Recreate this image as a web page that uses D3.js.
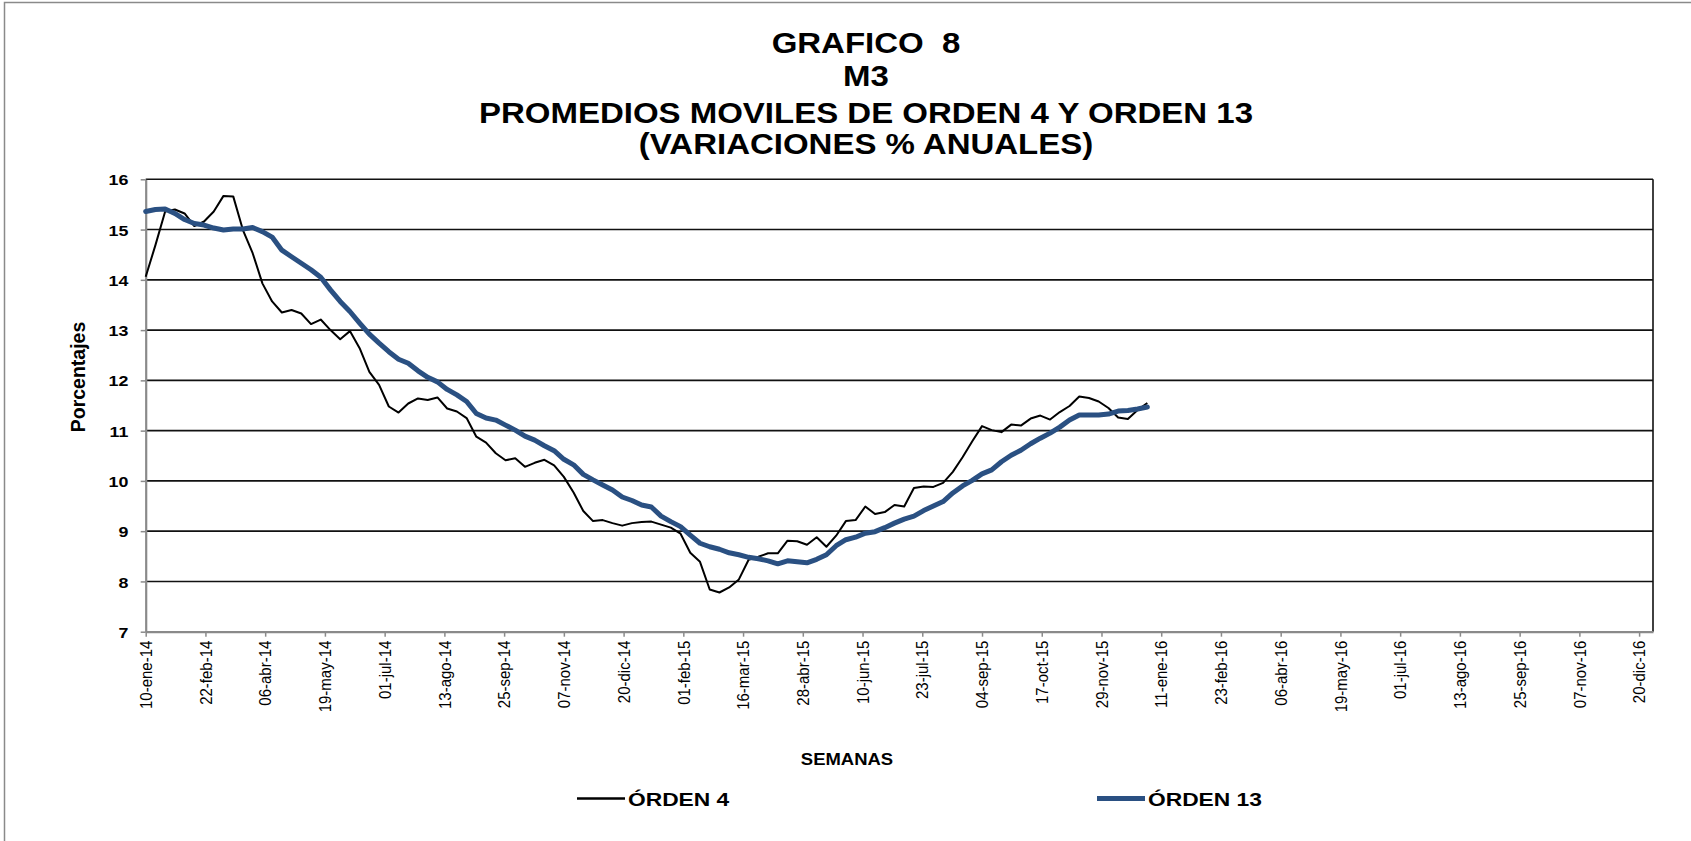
<!DOCTYPE html>
<html>
<head>
<meta charset="utf-8">
<script src="https://cdn.jsdelivr.net/npm/d3@7"></script>
<style>
  body { margin: 0; background: #fff; }
  svg text { font-family: "Liberation Sans", Arial, sans-serif; }
</style>
</head>
<body>
<svg width="1691" height="841"></svg>
<script>
// chart data (weekly, first week 10-ene-14)
var titleLines = ["GRAFICO  8", "M3", "PROMEDIOS MOVILES DE ORDEN 4 Y ORDEN 13", "(VARIACIONES % ANUALES)"];
var seriesNames = ["ÓRDEN 4", "ÓRDEN 13"];
var firstWeek = "10-ene-14";
var lastAxisDay = "30-dic-16";

var orden4 = [
  14.06, 14.69, 15.36, 15.40, 15.32, 15.07, 15.16, 15.36, 15.67, 15.66,
  14.99, 14.53, 13.93, 13.57, 13.35, 13.40, 13.33, 13.12, 13.21, 13.00,
  12.82, 12.98, 12.64, 12.17, 11.91, 11.48, 11.36, 11.54, 11.64, 11.61,
  11.66, 11.44, 11.38, 11.25, 10.88, 10.76, 10.55, 10.41, 10.45, 10.28,
  10.36, 10.42, 10.31, 10.08, 9.77, 9.40, 9.20, 9.22, 9.16, 9.11,
  9.16, 9.18, 9.19, 9.13, 9.07, 8.95, 8.57, 8.39, 7.84, 7.78,
  7.88, 8.04, 8.43, 8.49, 8.56, 8.56, 8.81, 8.80, 8.73, 8.88,
  8.69, 8.91, 9.20, 9.22, 9.49, 9.34, 9.38, 9.52, 9.49, 9.86,
  9.89, 9.88, 9.96, 10.18, 10.47, 10.79, 11.09, 11.01, 10.97, 11.12,
  11.10, 11.24, 11.30, 11.22, 11.37, 11.49, 11.68, 11.65, 11.58, 11.45,
  11.26, 11.23, 11.41, 11.55
];

var orden13 = [
  15.36, 15.40, 15.41, 15.32, 15.20, 15.12, 15.09, 15.03, 14.99, 15.01,
  15.01, 15.04, 14.96, 14.85, 14.59, 14.46, 14.33, 14.20, 14.05, 13.80,
  13.57, 13.37, 13.14, 12.92, 12.74, 12.57, 12.42, 12.34, 12.19, 12.06,
  11.97, 11.82, 11.71, 11.58, 11.34, 11.25, 11.21, 11.11, 11.01, 10.89,
  10.81, 10.70, 10.60, 10.43, 10.32, 10.13, 10.02, 9.92, 9.82, 9.68,
  9.61, 9.52, 9.48, 9.30, 9.19, 9.09, 8.92, 8.76, 8.69, 8.64,
  8.57, 8.53, 8.48, 8.45, 8.41, 8.35, 8.41, 8.39, 8.37, 8.44,
  8.53, 8.71, 8.83, 8.88, 8.96, 8.99, 9.07, 9.16, 9.24, 9.30,
  9.41, 9.50, 9.59, 9.76, 9.90, 10.01, 10.14, 10.22, 10.38, 10.51,
  10.61, 10.74, 10.85, 10.95, 11.07, 11.21, 11.31, 11.31, 11.31, 11.33,
  11.39, 11.40, 11.43, 11.47
];

var yTicks = [7, 8, 9, 10, 11, 12, 13, 14, 15, 16];

var xTickLabels = [
  "10-ene-14", "22-feb-14", "06-abr-14", "19-may-14", "01-jul-14", "13-ago-14",
  "25-sep-14", "07-nov-14", "20-dic-14", "01-feb-15", "16-mar-15", "28-abr-15",
  "10-jun-15", "23-jul-15", "04-sep-15", "17-oct-15", "29-nov-15", "11-ene-16",
  "23-feb-16", "06-abr-16", "19-may-16", "01-jul-16", "13-ago-16", "25-sep-16",
  "07-nov-16", "20-dic-16"
];

var es = d3.timeFormatLocale({
  dateTime: "%A, %e de %B de %Y, %X",
  date: "%d/%m/%Y",
  time: "%H:%M:%S",
  periods: ["AM", "PM"],
  days: ["domingo", "lunes", "martes", "miércoles", "jueves", "viernes", "sábado"],
  shortDays: ["dom", "lun", "mar", "mié", "jue", "vie", "sáb"],
  months: ["enero", "febrero", "marzo", "abril", "mayo", "junio", "julio", "agosto", "septiembre", "octubre", "noviembre", "diciembre"],
  shortMonths: ["ene", "feb", "mar", "abr", "may", "jun", "jul", "ago", "sep", "oct", "nov", "dic"]
});
var parseDate = es.parse("%d-%b-%y");

var svg = d3.select("svg"),
    plot = {left: 145.7, right: 1653, top: 179.3, bottom: 631.7};

var start = parseDate(firstWeek);
var weeks = orden4.map(function(d, i) { return d3.timeDay.offset(start, 7 * i); });
var tickDates = xTickLabels.map(parseDate);

var xScale = d3.scaleTime().domain([start, parseDate(lastAxisDay)]).range([plot.left, plot.right]);
var yScale = d3.scaleLinear().domain([7, 16]).range([plot.bottom, plot.top]);

svg.append("rect")
    .attr("width", 1691).attr("height", 841).attr("fill", "#fff");

// outer chart border (only top and left visible)
svg.append("rect")
    .attr("x", 4.5).attr("y", 2.5)
    .attr("width", 1750).attr("height", 900)
    .attr("fill", "none")
    .attr("stroke", "#8a8a8a")
    .attr("stroke-width", 1.5);

// title
var titleY = [53.3, 85.5, 123.3, 154];
svg.selectAll(".title")
  .data(titleLines)
  .enter().append("text")
    .attr("class", "title")
    .attr("transform", function(d, i) {
      return "translate(866," + titleY[i] + ") scale(1.1,1)";
    })
    .attr("text-anchor", "middle")
    .attr("font-weight", "bold")
    .attr("font-size", "30px")
    .style("white-space", "pre")
    .text(function(d) { return d; });

// gridlines
svg.append("g")
  .selectAll("line")
  .data(yTicks.filter(function(d) { return d > 7; }))
  .enter().append("line")
    .attr("x1", plot.left).attr("x2", plot.right)
    .attr("y1", function(d) { return yScale(d); })
    .attr("y2", function(d) { return yScale(d); })
    .attr("stroke", "#111")
    .attr("stroke-width", 1.6);

// right border of the plot
svg.append("line")
    .attr("x1", plot.right).attr("x2", plot.right)
    .attr("y1", plot.top).attr("y2", plot.bottom)
    .attr("stroke", "#111")
    .attr("stroke-width", 1.6);

// x axis
var xAxis = svg.append("g")
    .attr("transform", "translate(0," + plot.bottom + ")")
    .call(d3.axisBottom(xScale)
      .tickValues(tickDates)
      .tickFormat(function(d, i) { return xTickLabels[i]; })
      .tickSize(5)
      .tickSizeOuter(0));

xAxis.select(".domain").attr("stroke", "#8a8a8a").attr("stroke-width", 2.2);
xAxis.selectAll(".tick line").attr("stroke", "#8a8a8a").attr("stroke-width", 1.5);
xAxis.selectAll(".tick text")
    .attr("transform", "rotate(-90) scale(1,1.05)")
    .attr("x", -9)
    .attr("y", 0)
    .attr("dy", "0.36em")
    .attr("text-anchor", "end")
    .attr("fill", "#000")
    .attr("font-family", null)
    .attr("font-size", "15px");

// y axis
var yAxis = svg.append("g")
    .attr("transform", "translate(" + plot.left + ",0)")
    .call(d3.axisLeft(yScale)
      .tickValues(yTicks)
      .tickFormat(d3.format("d"))
      .tickSize(5)
      .tickSizeOuter(0));

yAxis.select(".domain").attr("stroke", "#8a8a8a").attr("stroke-width", 2.2);
yAxis.selectAll(".tick line").attr("stroke", "#8a8a8a").attr("stroke-width", 1.5);
yAxis.selectAll(".tick text")
    .attr("x", 0)
    .attr("dy", "0.36em")
    .attr("transform", "translate(-17.4,0) scale(1.15,1)")
    .attr("fill", "#000")
    .attr("font-family", null)
    .attr("font-weight", "bold")
    .attr("font-size", "15.5px");

// axis titles
svg.append("text")
    .attr("transform", "translate(84.5,377) rotate(-90) scale(1,1.08)")
    .attr("text-anchor", "middle")
    .attr("font-weight", "bold")
    .attr("font-size", "19.5px")
    .text("Porcentajes");

svg.append("text")
    .attr("transform", "translate(847,764.5) scale(1.12,1)")
    .attr("text-anchor", "middle")
    .attr("font-weight", "bold")
    .attr("font-size", "16.5px")
    .text("SEMANAS");

// series lines
var line = d3.line()
    .x(function(d, i) { return xScale(weeks[i]); })
    .y(function(d) { return yScale(d); });

svg.append("path")
    .datum(orden4)
    .attr("fill", "none")
    .attr("stroke", "#000")
    .attr("stroke-width", 2)
    .attr("stroke-linejoin", "round")
    .attr("d", line);

svg.append("path")
    .datum(orden13)
    .attr("fill", "none")
    .attr("stroke", "#2a5082")
    .attr("stroke-width", 5)
    .attr("stroke-linejoin", "round")
    .attr("stroke-linecap", "round")
    .attr("d", line);

// legend
var legend = [
  { name: seriesNames[0], x: 577, color: "#000", width: 2.5 },
  { name: seriesNames[1], x: 1097, color: "#2a5082", width: 5 }
];

var lg = svg.selectAll(".legend")
  .data(legend)
  .enter().append("g")
    .attr("class", "legend")
    .attr("transform", function(d) { return "translate(" + d.x + ",798.5)"; });

lg.append("line")
    .attr("x1", 0).attr("x2", 48)
    .attr("stroke", function(d) { return d.color; })
    .attr("stroke-width", function(d) { return d.width; });

lg.append("text")
    .attr("transform", "translate(51,7.5) scale(1.2,1)")
    .attr("font-weight", "bold")
    .attr("font-size", "19px")
    .text(function(d) { return d.name; });
</script>
</body>
</html>
